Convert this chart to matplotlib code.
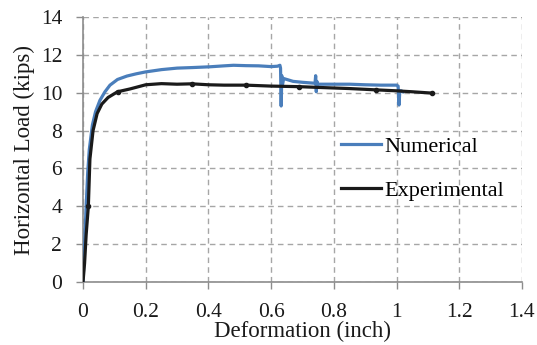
import matplotlib
matplotlib.use("Agg")
import matplotlib.pyplot as plt
from matplotlib.lines import Line2D

num_x = [0, 0.005, 0.01, 0.015, 0.02, 0.03, 0.04, 0.054, 0.07, 0.086, 0.11, 0.14, 0.17, 0.2,
         0.25, 0.3, 0.35, 0.405, 0.45, 0.48, 0.52, 0.56, 0.6, 0.62, 0.628, 0.63, 0.632, 0.634,
         0.636, 0.64, 0.67, 0.70, 0.74, 0.742, 0.744, 0.746, 0.748, 0.75, 0.8, 0.85, 0.9, 0.95,
         1.0, 1.005, 1.008, 1.01, 1.012, 1.015, 1.02]
num_y = [0, 2.0, 4.0, 5.8, 7.0, 8.3, 9.0, 9.6, 10.05, 10.4, 10.7, 10.88, 11.0, 11.1,
         11.22, 11.3, 11.33, 11.37, 11.42, 11.45, 11.43, 11.42, 11.38, 11.4, 11.45, 11.3, 9.3, 10.9,
         10.4, 10.75, 10.6, 10.55, 10.5, 10.9, 10.05, 10.6, 10.45, 10.45, 10.45, 10.45, 10.42, 10.4,
         10.4, 10.35, 9.35, 10.0, 10.1, 10.1, 10.05]

exp_x = [0, 0.005, 0.01, 0.017, 0.022, 0.032, 0.045, 0.06, 0.08, 0.11, 0.15, 0.2, 0.25, 0.3,
         0.347, 0.4, 0.45, 0.52, 0.6, 0.69, 0.75, 0.8, 0.85, 0.936, 1.0, 1.05, 1.113]
exp_y = [0, 1.0, 2.5, 4.0, 6.5, 8.0, 8.9, 9.4, 9.75, 10.05, 10.2, 10.42, 10.48, 10.45,
         10.47, 10.42, 10.4, 10.4, 10.35, 10.32, 10.28, 10.25, 10.22, 10.15, 10.1, 10.05, 9.98]
exp_marks = [3, 9, 14, 17, 19, 23, 26]

x_ticks = [0, 0.2, 0.4, 0.6, 0.8, 1.0, 1.2, 1.4]
x_labels = ["0", "0.2", "0.4", "0.6", "0.8", "1", "1.2", "1.4"]
y_ticks = [0, 2, 4, 6, 8, 10, 12, 14]

plt.rcParams['font.family'] = ['Liberation Serif', 'DejaVu Serif']

blue = '#4a7ebb'
black = '#1a1a1a'

fig = plt.figure(figsize=(5.37, 3.45), dpi=100)
ax = fig.add_axes([0.1546, 0.1826, 0.8174, 0.7681])

ax.plot(num_x, num_y, color=blue, lw=2.3, zorder=3)
ax.plot(exp_x, exp_y, color=black, lw=2.3, marker='o', ms=3, markevery=exp_marks, zorder=4)

ax.set_xlim(0, 1.4)
ax.set_ylim(0, 14)
ax.set_xticks(x_ticks)
ax.set_xticklabels(x_labels)
ax.set_yticks(y_ticks)
ax.grid(True, color='#a6a6a6', linestyle=(0, (4, 3)), linewidth=1.0)
ax.set_axisbelow(True)
for s in ['top', 'right']:
    ax.spines[s].set_visible(False)
for s in ['left', 'bottom']:
    ax.spines[s].set_color('#8c8c8c')
    ax.spines[s].set_linewidth(1.2)
ax.tick_params(axis='both', colors='#8c8c8c', length=5, width=1, labelsize=15.5,
               labelcolor='#1a1a1a')
ax.tick_params(axis='x', pad=10)
ax.tick_params(axis='y', pad=10)

ax.set_xlabel('Deformation (inch)', fontsize=16.5, labelpad=-1, color='#1a1a1a')
ax.set_ylabel('Horizontal Load (kips)', fontsize=16.5, labelpad=4, color='#1a1a1a')

handles = [Line2D([], [], color=blue, lw=2.3), Line2D([], [], color=black, lw=2.3)]
ax.legend(handles, ['Numerical', 'Experimental'], loc='upper left',
          bbox_to_anchor=(0.542, 0.625), frameon=False, fontsize=16,
          handlelength=1.8, handletextpad=0.15, labelspacing=1.05)

fig.savefig('out.png', dpi=100)
